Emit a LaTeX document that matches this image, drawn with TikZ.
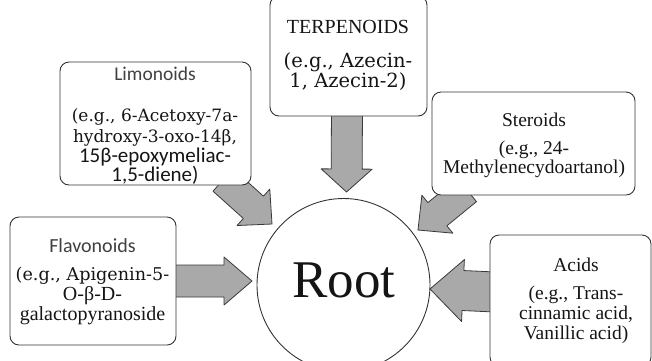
\documentclass[tikz,border=0pt]{standalone}
\usepackage{fontspec}
\setmainfont{Liberation Serif}
\newfontfamily\calib{Carlito}
\newfontfamily\camb{DejaVu Serif}
\usetikzlibrary{calc}
\definecolor{arrfill}{HTML}{A9A9A9}
\definecolor{arrline}{HTML}{3A3A3A}
\definecolor{boxline}{HTML}{333333}
\definecolor{txt}{HTML}{151515}
\definecolor{ttl}{HTML}{404040}
\tikzset{
  blockarrow/.style={fill=arrfill, draw=arrline, line width=0.8pt, line join=round},
  catbox/.style={draw=boxline, line width=0.9pt, rounded corners=9pt, fill=white, inner sep=0pt},
  rootcircle/.style={draw=boxline, line width=0.9pt, fill=white, circle, inner sep=0pt, minimum size=173pt},
  ln/.style={inner sep=0pt, anchor=base, text=txt},
  tnr/.style={font=\fontsize{#1}{#1}\selectfont},
  cmb/.style={font=\camb\fontsize{#1}{#1}\selectfont},
  cal/.style={font=\calib\fontsize{#1}{#1}\selectfont},
}
\newcommand\blockarr[6]{%
  \coordinate (#1s) at (#2);
  \coordinate (#1t) at (#3);
  \coordinate (#1h) at ($(#1t)!#6!(#1s)$);
  \draw[blockarrow] ($(#1s)!#4!90:(#1t)$) -- ($(#1h)!#4!90:(#1t)$) -- ($(#1h)!#5!90:(#1t)$)
    -- (#1t) -- ($(#1h)!#5!-90:(#1t)$) -- ($(#1h)!#4!-90:(#1t)$) -- ($(#1s)!#4!-90:(#1t)$) -- cycle;
}
\begin{document}
\begin{tikzpicture}[x=1pt, y=-1pt]
\useasboundingbox (0,0) rectangle (652,360);
\clip (0,0) rectangle (652,360);
% root
\node[rootcircle] (root) at (343.5,285) {};
\node[ln, tnr=53] (rootlabel) at (344,297) {Root};
% arrows
\blockarr{ta}{347,110}{346.5,192}{15.5pt}{25.5pt}{23pt}
\blockarr{la}{223,180}{272,224}{15pt}{24.5pt}{25pt}
\blockarr{sa}{467,190}{418,230}{15pt}{24.5pt}{25pt}
\blockarr{fa}{170,281}{252,281}{16pt}{24pt}{28pt}
\blockarr{aa}{495,292}{430,289}{20pt}{31pt}{33pt}
% boxes
\node[catbox, minimum width=157pt, minimum height=120pt] (terp) at (348.5,56) {};
\node[catbox, minimum width=191pt, minimum height=123pt] (limo) at (155.5,123.5) {};
\node[catbox, minimum width=203pt, minimum height=103pt] (ster) at (533.5,143.5) {};
\node[catbox, minimum width=166pt, minimum height=128pt] (flav) at (93,281) {};
\node[catbox, minimum width=161pt, minimum height=131pt] (acid) at (570.5,300.5) {};
% terpenoids text
\node[ln, tnr=20] (terp1) at (348,33) {TERPENOIDS};
\node[ln, cmb=19.5] (terp2) at (348,67) {(e.g., Azecin-};
\node[ln, cmb=19.5] (terp3) at (348,87) {1, Azecin-2)};
% limonoids text
\node[ln, cal=19.5, text=ttl] (limo1) at (155,80) {Limonoids};
\node[ln, cmb=17] (limo2) at (155,121) {(e.g., 6-Acetoxy-7a-};
\node[ln, cmb=17] (limo3) at (155,142) {hydroxy-3-oxo-14β,};
\node[ln, cal=21] (limo4) at (155,162) {15β-epoxymeliac-};
\node[ln, cal=21] (limo5) at (155,181) {1,5-diene)};
% steroids text
\node[ln, tnr=19.5] (ster1) at (534,126) {Steroids};
\node[ln, tnr=19.5] (ster2) at (534,154) {(e.g., 24-};
\node[ln, tnr=19.5] (ster3) at (534,173) {Methylenecydoartanol)};
% flavonoids text
\node[ln, cal=20, text=ttl] (flav1) at (92.5,252) {Flavonoids};
\node[ln, cmb=17.6] (flav2) at (92.5,280) {(e.g., Apigenin-5-};
\node[ln, tnr=20] (flav3) at (92.5,300) {O-β-D-};
\node[ln, tnr=20] (flav4) at (92.5,320) {galactopyranoside};
% acids text
\node[ln, tnr=19.5] (acid1) at (576,271) {Acids};
\node[ln, tnr=19.5] (acid2) at (576,299) {(e.g., Trans-};
\node[ln, tnr=19.5] (acid3) at (576,319) {cinnamic acid,};
\node[ln, tnr=19.5] (acid4) at (576,339) {Vanillic acid)};
\end{tikzpicture}
\end{document}
